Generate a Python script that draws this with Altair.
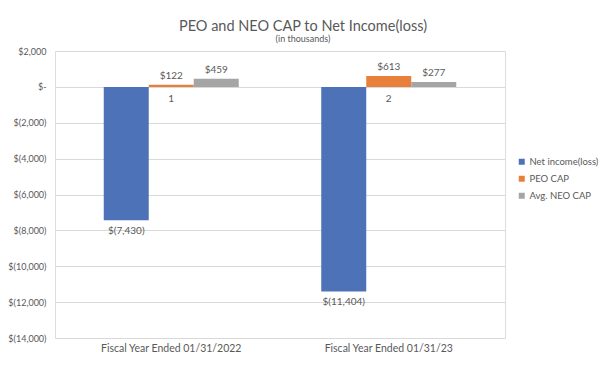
import altair as alt
import pandas as pd

categories = ["Fiscal Year Ended 01/31/2022", "Fiscal Year Ended 01/31/23"]
series = ["Net income(loss)", "PEO CAP", "Avg. NEO CAP"]
net_income = [-7430, -11404]
peo_cap = [122, 613]
neo_cap = [459, 277]
point_labels = ["1", "2"]
colors = ["#4E72B8", "#E8803C", "#A5A5A5"]

def fmt(v):
    if v < 0:
        return "$(" + format(-v, ",") + ")"
    return "$" + format(v, ",")

rows = []
for i, c in enumerate(categories):
    for s, vals in zip(series, [net_income, peo_cap, neo_cap]):
        v = vals[i]
        rows.append({"cat": c, "series": s, "value": v, "label": fmt(v)})
df = pd.DataFrame(rows)
df_pts = pd.DataFrame({"cat": categories, "series": ["PEO CAP"] * 2, "txt": point_labels, "value": [0, 0]})

FONT = "Lato"
GREY = "#595959"

x = alt.X("cat:N", sort=categories, title=None,
          scale=alt.Scale(paddingInner=0, paddingOuter=0.0345),
          axis=alt.Axis(domain=False, ticks=False, labelAngle=0, labelPadding=5,
                        labelFontSize=10.5, labelColor=GREY, labelFont=FONT))
xoff = alt.XOffset("series:N", sort=series,
                   scale=alt.Scale(paddingInner=0, paddingOuter=0.9167))
y = alt.Y("value:Q", title=None,
          scale=alt.Scale(domain=[-14000, 2000], nice=False),
          axis=alt.Axis(values=list(range(-14000, 2001, 2000)), domain=False, ticks=False,
                        gridColor="#D9D9D9", labelPadding=9, labelFontSize=9,
                        labelColor=GREY, labelFont=FONT, labelOverlap=False,
                        labelBound=False,
                        labelExpr="datum.value == 0 ? '$-' : (datum.value < 0 ? '$(' + format(-datum.value, ',') + ')' : '$' + format(datum.value, ','))"))

bars = alt.Chart(df).mark_bar().encode(
    x=x, xOffset=xoff, y=y,
    color=alt.Color("series:N", sort=series,
                    scale=alt.Scale(domain=series, range=colors),
                    legend=alt.Legend(title=None, orient="none", legendX=462, legendY=106,
                                      symbolType="square", symbolSize=36, rowPadding=6,
                                      labelFontSize=9.5, labelColor=GREY, labelFont=FONT,
                                      labelOffset=3, symbolStrokeWidth=0, labelLimit=200)),
)

pos_text = alt.Chart(df).transform_filter("datum.value >= 0").mark_text(
    baseline="bottom", dy=-4, fontSize=10, color=GREY, font=FONT
).encode(x=x, xOffset=xoff, y=y, text="label:N")

neg_text = alt.Chart(df).transform_filter("datum.value < 0").mark_text(
    baseline="top", dy=6, fontSize=10, color=GREY, font=FONT
).encode(x=x, xOffset=xoff, y=y, text="label:N")

pt_text = alt.Chart(df_pts).mark_text(
    baseline="top", dy=7, fontSize=10, color=GREY, font=FONT
).encode(x=x, xOffset=xoff, y=y, text="txt:N")

chart = alt.layer(bars, pos_text, neg_text, pt_text).properties(
    width=450, height=287,
    autosize=alt.AutoSizeParams(type="none"),
    padding={"left": 47, "top": 43, "right": 93, "bottom": 20},
    title=alt.TitleParams("PEO and NEO CAP to Net Income(loss)",
                          subtitle="(in thousands)", anchor="middle", dx=23,
                          fontSize=14.5, font=FONT, fontWeight="normal", color=GREY,
                          subtitleFontSize=9, subtitleFont=FONT, subtitleColor=GREY,
                          subtitlePadding=1, offset=2),
).configure_view(stroke=None).configure(background="white")

chart.save("out.html", embed_options={"renderer": "svg", "actions": False})
